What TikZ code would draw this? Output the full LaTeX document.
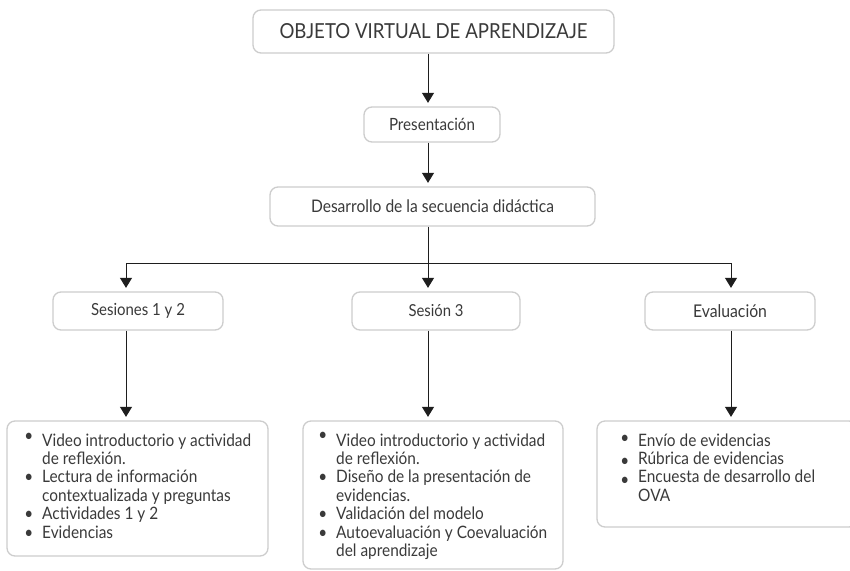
\documentclass[tikz,border=0pt]{standalone}
\usepackage{fontspec}
\setmainfont{Lato}[FakeStretch=0.9]
\usetikzlibrary{arrows.meta,calc}
\definecolor{txt}{HTML}{3A3A3A}
\definecolor{bord}{HTML}{CDCDCD}
\definecolor{arr}{HTML}{1E1E1E}
\newlength\mytw
\newcommand\fitsz[3]{%
  \settowidth\mytw{\normalfont\fontsize{10}{12}\selectfont #2}%
  \pgfmathsetmacro#1{10*#3/\mytw}}
\newcommand\fsz[1]{\fontsize{#1}{#1}\selectfont}
\newcommand\fbody{\fontsize{\szbody}{18.4}\selectfont}
\newcommand\bul[1][0pt]{\leavevmode\llap{\raisebox{#1}{\textbullet}\hspace{9pt}}}
\AtBeginDocument{%
  \fitsz\sztitle{OBJETO VIRTUAL DE APRENDIZAJE}{308}%
  \fitsz\szpres{Presentación}{86}%
  \fitsz\szdes{Desarrollo de la secuencia didáctica}{243}%
  \fitsz\szses{Sesiones 1 y 2}{94}%
  \fitsz\szstr{Sesión 3}{55}%
  \fitsz\szev{Evaluación}{74}%
  \fitsz\szbody{Video introductorio y actividad}{209}%
}
\begin{document}
\begin{tikzpicture}[x=1pt,y=-1pt,
  box/.style={draw=bord,line width=1.3pt,rounded corners=8pt,fill=white,inner sep=0pt,text=txt},
  plain/.style={draw=arr,line width=0.9pt},
  conn/.style={plain,-{Triangle[length=10pt,width=12pt]},shorten >=3.5pt},
  body/.style={inner sep=0pt,anchor=base west,text=txt,font=\fbody}]
\useasboundingbox (0,0) rectangle (850,570);
\clip (0,0) rectangle (850,570);
\fill[white] (0,0) rectangle (850,570);

% boxes
\node[box,minimum width=361pt,minimum height=43pt,font=\fsz\sztitle] (ova) at (433.5,31.5) {OBJETO VIRTUAL DE APRENDIZAJE};
\node[box,minimum width=136pt,minimum height=35pt,font=\fsz\szpres] (pres) at (432,124.5) {Presentación};
\node[box,minimum width=325pt,minimum height=39pt,font=\fsz\szdes] (des) at (432.5,206.5) {Desarrollo de la secuencia didáctica};
\node[box,minimum width=170pt,minimum height=38pt,font=\fsz\szses] (s12) at (138,311) {Sesiones 1 y 2};
\node[box,minimum width=168pt,minimum height=38pt,font=\fsz\szstr] (s3) at (436,311) {Sesión 3};
\node[box,minimum width=170pt,minimum height=38pt,font=\fsz\szev] (ev) at (730,311) {Evaluación};
\node[box,minimum width=261pt,minimum height=135pt] (b1) at (137.5,488.5) {};
\node[box,minimum width=260pt,minimum height=148pt] (b2) at (433,495) {};
\node[box,minimum width=260pt,minimum height=106pt] (b3) at (727,474) {};

% texts of the lower boxes
\node[body] (t1) at (42,446) {\parbox[t]{230pt}{\fbody
\bul[5pt]Video introductorio y actividad\\
de reflexión.\\
\bul Lectura de información\\
contextualizada y preguntas\\
\bul Actividades 1 y 2\\
\bul Evidencias}};
\node[body] (t2) at (336,446) {\parbox[t]{225pt}{\fbody
\bul[6pt]Video introductorio y actividad\\
de reflexión.\\
\bul Diseño de la presentación de\\
evidencias.\\
\bul Validación del modelo\\
\bul Autoevaluación y Coevaluación\\
del aprendizaje}};
\node[body] (t3) at (638,446) {\parbox[t]{210pt}{\fbody
\bul[2.5pt]Envío de evidencias\\
\bul[-2.5pt]Rúbrica de evidencias\\
\bul[-2.5pt]Encuesta de desarrollo del\\
OVA}};

% connector coordinates
\coordinate (cx) at (428,0);
\coordinate (bl) at (126,263);
\coordinate (bm) at (428,263);
\coordinate (br) at (731,263);

\draw[conn] (ova.south -| cx) -- (pres.north -| cx);
\draw[conn] (pres.south -| cx) -- (des.north -| cx);
\draw[plain] (des.south -| cx) -- (bm);
\draw[plain] (bl) -- (br);
\draw[conn] (bl) -- (s12.north -| bl);
\draw[conn] (bm) -- (s3.north -| bm);
\draw[conn] (br) -- (ev.north -| br);
\draw[conn] (s12.south -| bl) -- (b1.north -| bl);
\draw[conn] (s3.south -| bm) -- (b2.north -| bm);
\draw[conn] (ev.south -| br) -- (b3.north -| br);
\end{tikzpicture}
\end{document}
